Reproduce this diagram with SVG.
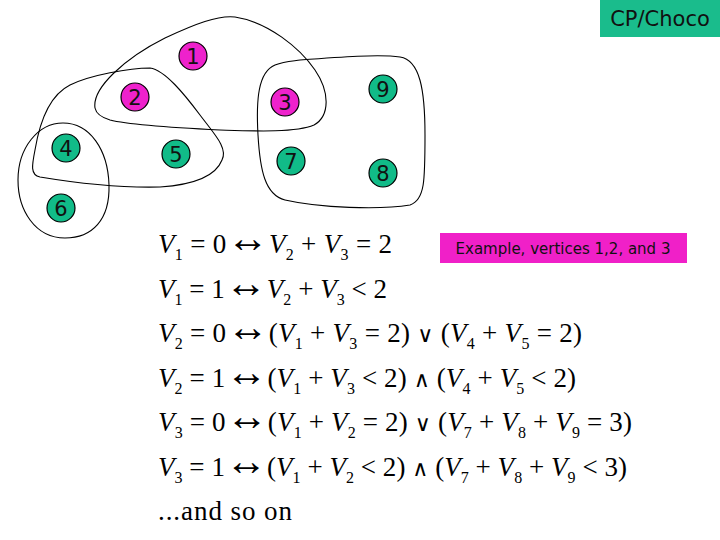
<svg xmlns="http://www.w3.org/2000/svg" width="720" height="540" viewBox="0 0 720 540">
<style>
.loop{fill:none;stroke:#000;stroke-width:1.1}
.pk{fill:#ee22cc;stroke:#000;stroke-width:1.2}
.gr{fill:#11bb88;stroke:#000;stroke-width:1.2}
.nl{font-family:"DejaVu Sans","Liberation Sans",sans-serif;font-size:21px;fill:#111;text-anchor:middle}
.eq{font-family:"Liberation Serif","DejaVu Serif",serif;font-size:27px;fill:#000}
.v{font-style:italic}
.s{font-size:16px}
.ar{font-family:"Liberation Serif",serif;font-size:42px}
.op{font-family:"DejaVu Serif",serif;font-size:22px}
.lab{font-family:"DejaVu Sans","Liberation Sans",sans-serif;fill:#111}
</style>
<rect width="720" height="540" fill="#fff"/>
<g id="connectors">
<path class="loop" d="M95,108 C92,88 125,58 165,38 C195,24 218,15 235,17 C268,22 300,48 315,70 C330,92 330,116 314,125 C295,133 252,131 220,130 C180,128 130,125 110,120 C100,117 96,113 95,108 Z"/>
<path class="loop" d="M150,68 C165,70 185,95 200,115 C215,135 228,148 222,160 C215,178 190,185 160,187 C120,188 70,182 40,177 C30,175 32,165 35,150 C40,120 50,95 70,85 C90,75 130,68 150,68 Z"/>
<path class="loop" d="M63,123 C90,123 108,150 109,185 C110,220 92,238 65,238 C35,238 18,210 18,180 C18,148 38,123 63,123 Z"/>
<path class="loop" d="M300,60 C340,57 380,54 400,57 C420,60 425,90 425,135 C425,180 425,200 410,205 C380,210 320,208 285,200 C265,195 260,170 258,135 C256,100 258,72 275,65 C285,61 295,61 300,60 Z"/>
</g>
<g id="n1"><circle class="pk" cx="193" cy="56" r="14"/><text class="nl" x="193" y="64">1</text></g>
<g id="n2"><circle class="pk" cx="135" cy="97" r="14"/><text class="nl" x="135" y="105">2</text></g>
<g id="n3"><circle class="pk" cx="285" cy="102" r="14"/><text class="nl" x="285" y="110">3</text></g>
<g id="n9"><circle class="gr" cx="383" cy="89" r="14"/><text class="nl" x="383" y="97">9</text></g>
<g id="n4"><circle class="gr" cx="66" cy="148" r="14"/><text class="nl" x="66" y="156">4</text></g>
<g id="n5"><circle class="gr" cx="176" cy="154" r="14"/><text class="nl" x="176" y="162">5</text></g>
<g id="n7"><circle class="gr" cx="291" cy="161" r="14"/><text class="nl" x="291" y="169">7</text></g>
<g id="n8"><circle class="gr" cx="383" cy="173" r="14"/><text class="nl" x="383" y="181">8</text></g>
<g id="n6"><circle class="gr" cx="61" cy="208" r="14"/><text class="nl" x="61" y="216">6</text></g>
<g id="title"><rect x="600" y="0" width="120" height="37" fill="#1abc8c"/><text class="lab" x="660" y="26" font-size="21" text-anchor="middle">CP/Choco</text></g>
<g id="note"><rect x="440" y="233" width="247" height="30" fill="#f020c8"/><text class="lab" x="563" y="254" font-size="15" text-anchor="middle">Example, vertices 1,2, and 3</text></g>
<g id="equations" class="eq">
<text x="158" y="253" textLength="234" lengthAdjust="spacing"><tspan class="v">V</tspan><tspan class="s" dy="7">1</tspan><tspan dy="-7"> = 0</tspan><tspan class="ar" dy="-1">↔</tspan><tspan class="v" dy="1">V</tspan><tspan class="s" dy="7">2</tspan><tspan dy="-7"> + </tspan><tspan class="v">V</tspan><tspan class="s" dy="7">3</tspan><tspan dy="-7"> = 2</tspan></text>
<text x="158" y="298" textLength="229" lengthAdjust="spacing"><tspan class="v">V</tspan><tspan class="s" dy="7">1</tspan><tspan dy="-7"> = 1</tspan><tspan class="ar" dy="-1">↔</tspan><tspan class="v" dy="1">V</tspan><tspan class="s" dy="7">2</tspan><tspan dy="-7"> + </tspan><tspan class="v">V</tspan><tspan class="s" dy="7">3</tspan><tspan dy="-7"> &lt; 2</tspan></text>
<text x="158" y="342" textLength="424" lengthAdjust="spacing"><tspan class="v">V</tspan><tspan class="s" dy="7">2</tspan><tspan dy="-7"> = 0</tspan><tspan class="ar" dy="-1">↔</tspan><tspan dy="1">(</tspan><tspan class="v">V</tspan><tspan class="s" dy="7">1</tspan><tspan dy="-7"> + </tspan><tspan class="v">V</tspan><tspan class="s" dy="7">3</tspan><tspan dy="-7"> = 2) </tspan><tspan class="op">∨</tspan><tspan> (</tspan><tspan class="v">V</tspan><tspan class="s" dy="7">4</tspan><tspan dy="-7"> + </tspan><tspan class="v">V</tspan><tspan class="s" dy="7">5</tspan><tspan dy="-7"> = 2)</tspan></text>
<text x="158" y="387" textLength="418" lengthAdjust="spacing"><tspan class="v">V</tspan><tspan class="s" dy="7">2</tspan><tspan dy="-7"> = 1</tspan><tspan class="ar" dy="-1">↔</tspan><tspan dy="1">(</tspan><tspan class="v">V</tspan><tspan class="s" dy="7">1</tspan><tspan dy="-7"> + </tspan><tspan class="v">V</tspan><tspan class="s" dy="7">3</tspan><tspan dy="-7"> &lt; 2) </tspan><tspan class="op">∧</tspan><tspan> (</tspan><tspan class="v">V</tspan><tspan class="s" dy="7">4</tspan><tspan dy="-7"> + </tspan><tspan class="v">V</tspan><tspan class="s" dy="7">5</tspan><tspan dy="-7"> &lt; 2)</tspan></text>
<text x="158" y="431" textLength="474" lengthAdjust="spacing"><tspan class="v">V</tspan><tspan class="s" dy="7">3</tspan><tspan dy="-7"> = 0</tspan><tspan class="ar" dy="-1">↔</tspan><tspan dy="1">(</tspan><tspan class="v">V</tspan><tspan class="s" dy="7">1</tspan><tspan dy="-7"> + </tspan><tspan class="v">V</tspan><tspan class="s" dy="7">2</tspan><tspan dy="-7"> = 2) </tspan><tspan class="op">∨</tspan><tspan> (</tspan><tspan class="v">V</tspan><tspan class="s" dy="7">7</tspan><tspan dy="-7"> + </tspan><tspan class="v">V</tspan><tspan class="s" dy="7">8</tspan><tspan dy="-7"> + </tspan><tspan class="v">V</tspan><tspan class="s" dy="7">9</tspan><tspan dy="-7"> = 3)</tspan></text>
<text x="158" y="476" textLength="469" lengthAdjust="spacing"><tspan class="v">V</tspan><tspan class="s" dy="7">3</tspan><tspan dy="-7"> = 1</tspan><tspan class="ar" dy="-1">↔</tspan><tspan dy="1">(</tspan><tspan class="v">V</tspan><tspan class="s" dy="7">1</tspan><tspan dy="-7"> + </tspan><tspan class="v">V</tspan><tspan class="s" dy="7">2</tspan><tspan dy="-7"> &lt; 2) </tspan><tspan class="op">∧</tspan><tspan> (</tspan><tspan class="v">V</tspan><tspan class="s" dy="7">7</tspan><tspan dy="-7"> + </tspan><tspan class="v">V</tspan><tspan class="s" dy="7">8</tspan><tspan dy="-7"> + </tspan><tspan class="v">V</tspan><tspan class="s" dy="7">9</tspan><tspan dy="-7"> &lt; 3)</tspan></text>
<text x="158" y="520" textLength="134" lengthAdjust="spacing">...and so on</text>
</g>
</svg>
